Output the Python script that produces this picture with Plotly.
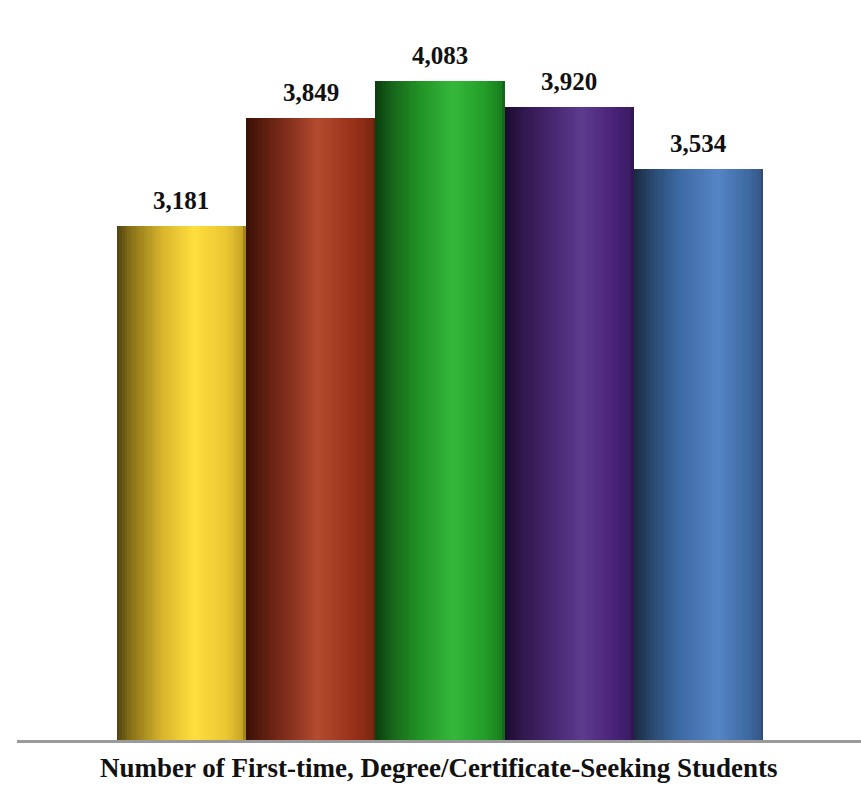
import plotly.graph_objects as go

# ---- data ----
categories = [0, 1, 2, 3, 4]
values = [3181, 3849, 4083, 3920, 3534]
value_labels = ["3,181", "3,849", "4,083", "3,920", "3,534"]
axis_title = "Number of First-time, Degree/Certificate-Seeking Students"

# ---- style: cylinder-like gradient stops per bar (t across bar, colour) ----
gradient_stops = [
    [(0, "#4f4210"), (0.12, "#8c7518"), (0.35, "#d8b42c"), (0.6, "#ffdf3e"), (0.85, "#eac632"), (0.97, "#c9a524"), (1.0, "#8a7420")],
    [(0, "#3a1006"), (0.15, "#5e1e0f"), (0.35, "#8a3220"), (0.55, "#b34b2e"), (0.85, "#962f18"), (0.97, "#7e2812"), (1.0, "#5c2010")],
    [(0, "#0b3d0e"), (0.15, "#186a1c"), (0.35, "#219426"), (0.6, "#35b83b"), (0.85, "#239d27"), (0.97, "#1a7f1e"), (1.0, "#135c16")],
    [(0, "#1c0a2c"), (0.15, "#31184f"), (0.35, "#46256e"), (0.6, "#5e3b8f"), (0.85, "#482278"), (0.97, "#3b1c64"), (1.0, "#2a1448")],
    [(0, "#1a2a40"), (0.15, "#2a4a72"), (0.35, "#3d6aa4"), (0.65, "#5585c6"), (0.88, "#3f6aa2"), (0.97, "#36598a"), (1.0, "#2a4468")],
]


def hex2rgb(h):
    h = h.lstrip("#")
    return tuple(int(h[i:i + 2], 16) for i in (0, 2, 4))


def interp(stops, t):
    for (t0, c0), (t1, c1) in zip(stops[:-1], stops[1:]):
        if t0 <= t <= t1:
            f = (t - t0) / (t1 - t0) if t1 > t0 else 0
            a, b = hex2rgb(c0), hex2rgb(c1)
            r = [round(a[k] + (b[k] - a[k]) * f) for k in range(3)]
            return "rgb({},{},{})".format(*r)
    return stops[-1][1]


N = 48
fig = go.Figure()
for i in range(N):
    t = (i + 0.5) / N
    off = -0.5 + i / N
    w = 1.6 / N if i < N - 1 else 1.0 / N
    w = min(w, 0.5 - off)
    fig.add_trace(go.Bar(
        x=categories,
        y=values,
        width=w,
        offset=off,
        marker=dict(color=[interp(s, t) for s in gradient_stops], line=dict(width=0)),
        hoverinfo="skip",
        showlegend=False,
    ))

SERIF = "Liberation Serif, Times New Roman, serif"
for c, v, lab in zip(categories, values, value_labels):
    fig.add_annotation(
        x=c, y=v, text="<b>" + lab + "</b>", showarrow=False,
        yanchor="bottom", yshift=10,
        font=dict(family=SERIF, size=25, color="#111111"),
    )

fig.add_annotation(
    x=0.5, y=0, xref="paper", yref="paper", text="<b>" + axis_title + "</b>",
    showarrow=False, yanchor="top", yshift=-11,
    font=dict(family=SERIF, size=27, color="#111111"),
)

fig.update_layout(
    width=861, height=788,
    margin=dict(l=17, r=0, t=0, b=48),
    barmode="overlay",
    bargap=0,
    plot_bgcolor="white",
    paper_bgcolor="white",
    xaxis=dict(range=[-1.271, 5.256], showgrid=False, zeroline=False,
               showticklabels=False, ticks="", showline=True,
               linecolor="#9a9a9a", linewidth=2.5),
    yaxis=dict(range=[0, 4582], showgrid=False, zeroline=False,
               showticklabels=False, ticks="", showline=False),
)

fig.write_html("out.html", config={"displayModeBar": False},
               post_script="document.body.style.margin='0px';")
